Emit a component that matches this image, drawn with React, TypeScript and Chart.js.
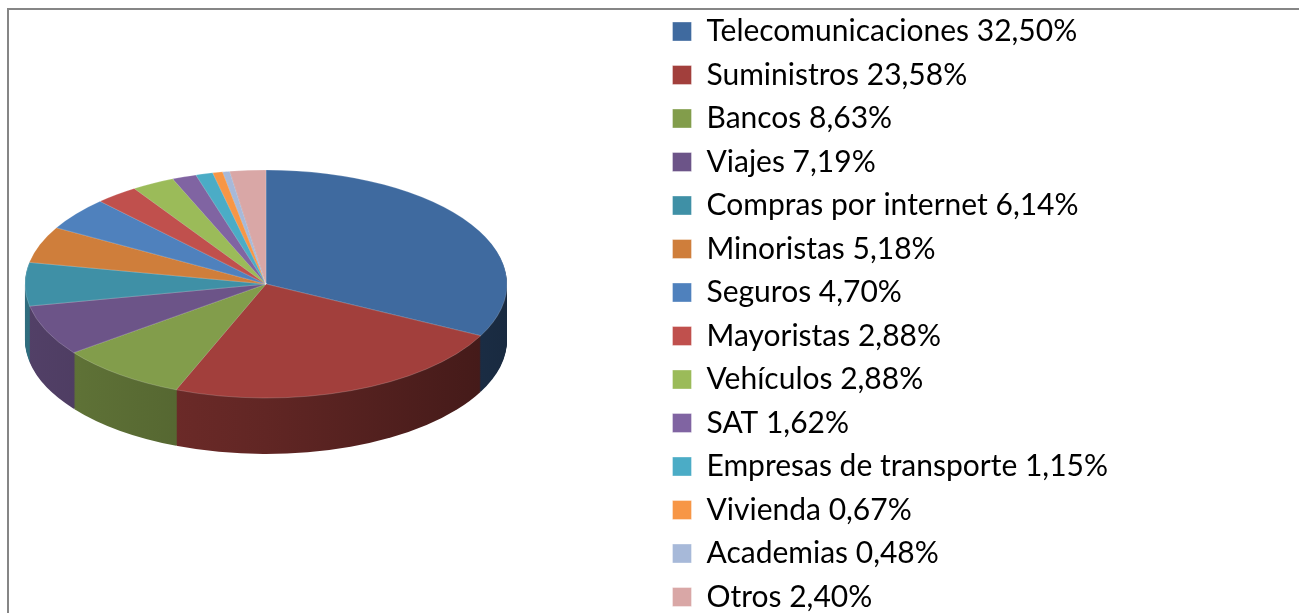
import { useEffect, useRef } from "react";
import { Chart, registerables } from "chart.js";

Chart.register(...registerables);

const categories = [
  "Telecomunicaciones",
  "Suministros",
  "Bancos",
  "Viajes",
  "Compras por internet",
  "Minoristas",
  "Seguros",
  "Mayoristas",
  "Vehículos",
  "SAT",
  "Empresas de transporte",
  "Vivienda",
  "Academias",
  "Otros",
];
const values = [32.5, 23.58, 8.63, 7.19, 6.14, 5.18, 4.7, 2.88, 2.88, 1.62, 1.15, 0.67, 0.48, 2.4];
const colors = [
  "#3f6a9f",
  "#a23f3c",
  "#829d4b",
  "#6c5488",
  "#3f90a6",
  "#cf7e3b",
  "#4f81bd",
  "#c0504d",
  "#9bbb59",
  "#8064a2",
  "#4bacc6",
  "#f79646",
  "#a7b9d9",
  "#d9a7a6",
];

const CANVAS_LEFT = 9;
const CANVAS_TOP = 3;
const CANVAS_W = 1109;
const CANVAS_H = 680;
const PIE_CX = 266;
const PIE_CY = 284;
const PIE_RX = 241;
const PIE_RY = 114;
const PIE_DEPTH = 56;

function shade(hex: string, f: number): string {
  const n = parseInt(hex.slice(1), 16);
  const r = Math.round(((n >> 16) & 255) * f);
  const g = Math.round(((n >> 8) & 255) * f);
  const b = Math.round((n & 255) * f);
  return `rgb(${r},${g},${b})`;
}

const pie3d = {
  id: "pie3d",
  beforeDatasetsDraw(chart: any) {
    const meta = chart.getDatasetMeta(0);
    const arcs = meta.data;
    chart.$pie3dSaved = false;
    if (!arcs.length) return;
    const a0 = arcs[0].getProps(["x", "y", "outerRadius"], true);
    const cx0 = a0.x;
    const cy0 = a0.y;
    const r0 = a0.outerRadius;
    const sx = PIE_RX / r0;
    const sy = PIE_RY / r0;
    const ctx = chart.ctx;
    ctx.save();
    chart.$pie3dSaved = true;
    ctx.translate(PIE_CX - CANVAS_LEFT, PIE_CY - CANVAS_TOP);
    ctx.scale(sx, sy);
    ctx.translate(-cx0, -cy0);
    const grads = arcs.map((_a: any, i: number) => {
      const g = ctx.createLinearGradient(cx0 - r0, 0, cx0 + r0, 0);
      g.addColorStop(0, shade(colors[i], 0.76));
      g.addColorStop(0.5, shade(colors[i], 0.6));
      g.addColorStop(1, shade(colors[i], 0.4));
      return g;
    });
    for (let d = PIE_DEPTH; d > 0; d -= 1) {
      const off = d / sy;
      arcs.forEach((a: any, i: number) => {
        const p = a.getProps(["x", "y", "startAngle", "endAngle", "outerRadius"], true);
        ctx.beginPath();
        ctx.moveTo(p.x, p.y + off);
        ctx.arc(p.x, p.y + off, p.outerRadius, p.startAngle, p.endAngle);
        ctx.closePath();
        ctx.fillStyle = grads[i];
        ctx.fill();
      });
    }
  },
  afterDatasetsDraw(chart: any) {
    if (chart.$pie3dSaved) {
      chart.ctx.restore();
      chart.$pie3dSaved = false;
    }
  },
};

const fmt = (v: number) => v.toFixed(2).replace(".", ",") + "%";

export default function App() {
  const ref = useRef<HTMLCanvasElement | null>(null);
  useEffect(() => {
    if (!ref.current) return;
    const chart = new Chart(ref.current, {
      type: "pie",
      data: {
        labels: categories.map((c, i) => `${c} ${fmt(values[i])}`),
        datasets: [
          {
            data: values,
            backgroundColor: colors,
            borderColor: "rgba(255,255,255,0.35)",
            borderWidth: 1,
          },
        ],
      },
      options: {
        responsive: false,
        animation: false,
        events: [],
        layout: { padding: 0 },
        plugins: {
          tooltip: { enabled: false },
          legend: {
            position: "right",
            align: "start",
            labels: {
              boxWidth: 19,
              boxHeight: 19,
              padding: 13.5,
              color: "#000",
              font: { family: "Lato", size: 30 },
            },
          },
        },
      },
      plugins: [pie3d],
    });
    return () => chart.destroy();
  }, []);
  return (
    <div style={{ position: "fixed", left: 0, top: 0, right: 0, bottom: 0, overflow: "hidden", background: "#fff" }}>
      <div
        style={{
          position: "absolute",
          left: 7,
          top: 8,
          right: -10,
          bottom: -10,
          borderTop: "2px solid #868686",
          borderLeft: "2px solid #868686",
        }}
      />
      <canvas
        ref={ref}
        width={CANVAS_W}
        height={CANVAS_H}
        style={{ position: "absolute", left: CANVAS_LEFT, top: CANVAS_TOP, width: CANVAS_W, height: CANVAS_H }}
      />
    </div>
  );
}
